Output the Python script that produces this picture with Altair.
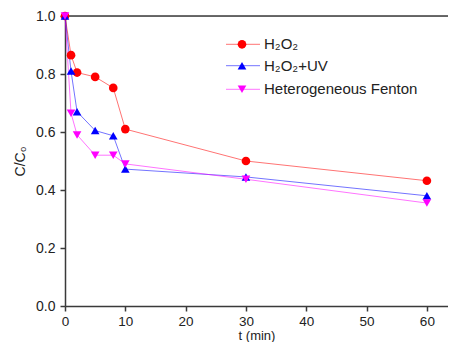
import altair as alt
import pandas as pd

t_values = [0, 1, 2, 5, 8, 10, 30, 60]
h2o2 = [1.0, 0.865, 0.805, 0.790, 0.752, 0.610, 0.500, 0.432]
h2o2_uv = [1.0, 0.810, 0.670, 0.605, 0.587, 0.472, 0.445, 0.380]
fenton = [1.0, 0.665, 0.590, 0.520, 0.520, 0.490, 0.437, 0.355]

series_names = ["H₂O₂", "H₂O₂+UV", "Heterogeneous Fenton"]
series_colors = ["#ff0000", "#0000ff", "#ff00ff"]
series_shapes = ["circle", "triangle-up", "triangle-down"]

x_ticks = [0, 5, 10, 15, 20, 25, 30, 35, 40, 45, 50, 55, 60]
y_ticks = [0.0, 0.1, 0.2, 0.3, 0.4, 0.5, 0.6, 0.7, 0.8, 0.9, 1.0]

rows = []
for name, vals in zip(series_names, [h2o2, h2o2_uv, fenton]):
    for t, c in zip(t_values, vals):
        rows.append({"series": name, "t": t, "c": c})
df = pd.DataFrame(rows)

W, H = 383, 290
FONT = "Liberation Sans"
AXIS_COLOR = "#3a3a3a"

color_scale = alt.Scale(domain=series_names, range=series_colors)
shape_scale = alt.Scale(domain=series_names, range=series_shapes)

x_enc = alt.X(
    "t:Q",
    scale=alt.Scale(domain=[0, 63.5], nice=False, zero=False),
    axis=alt.Axis(
        title="t (min)",
        values=x_ticks,
        grid=False,
        labelExpr="datum.value % 10 === 0 ? datum.label : ''",
        tickSize={"condition": {"test": "datum.value % 10 === 0", "value": 5}, "value": 3},
        tickColor=AXIS_COLOR,
        tickWidth=1.5,
        domainColor=AXIS_COLOR,
        domainWidth=1.5,
        labelFont=FONT,
        labelFontSize=13.5,
        labelColor="#222",
        labelPadding=3,
        labelFlush=False,
        titleFont=FONT,
        titleFontSize=13,
        titleFontWeight="normal",
        titleColor="#222",
        titlePadding=2,
    ),
)
y_enc = alt.Y(
    "c:Q",
    scale=alt.Scale(domain=[0, 1.0], nice=False),
    axis=alt.Axis(
        title="C/C₀",
        values=y_ticks,
        grid=False,
        format=".1f",
        labelExpr="round(datum.value * 10) % 2 === 0 ? datum.label : ''",
        tickSize={"condition": {"test": "round(datum.value * 10) % 2 === 0", "value": 5}, "value": 3},
        tickColor=AXIS_COLOR,
        tickWidth=1.5,
        domainColor=AXIS_COLOR,
        domainWidth=1.5,
        labelFont=FONT,
        labelFontSize=14,
        labelColor="#222",
        labelPadding=5,
        labelFlush=False,
        titleFont=FONT,
        titleFontSize=14,
        titleFontWeight="normal",
        titleColor="#222",
        titlePadding=8,
    ),
)

base = alt.Chart(df)

lines = base.mark_line(strokeWidth=1, opacity=0.55, clip=False).encode(
    x=x_enc, y=y_enc,
    color=alt.Color("series:N", scale=color_scale, legend=None),
    detail="series:N",
)
points = base.mark_point(filled=True, size=75, opacity=1, clip=False).encode(
    x="t:Q", y="c:Q",
    color=alt.Color("series:N", scale=color_scale, legend=None),
    shape=alt.Shape("series:N", scale=shape_scale, legend=None),
)

top_frame = alt.Chart(pd.DataFrame({"a": [0]})).mark_rule(
    color=AXIS_COLOR, strokeWidth=1.5
).encode(x=alt.value(0), x2=alt.value(W), y=alt.value(0))

# manual legend (line segment + marker + label)
legend_y = [28.3, 49.7, 73.3]
legend_layers = []
for name, col, shp, ly in zip(series_names, series_colors, series_shapes, legend_y):
    d = pd.DataFrame({"series": [name]})
    legend_layers.append(
        alt.Chart(d).mark_rule(color=col, strokeWidth=1, opacity=0.55).encode(
            x=alt.value(161), x2=alt.value(195), y=alt.value(ly)
        )
    )
    legend_layers.append(
        alt.Chart(d).mark_point(filled=True, size=75, color=col, shape=shp, opacity=1).encode(
            x=alt.value(177), y=alt.value(ly)
        )
    )
    legend_layers.append(
        alt.Chart(d).mark_text(
            align="left", baseline="middle", font=FONT, fontSize=15, color="#222", dx=0
        ).encode(x=alt.value(199), y=alt.value(ly), text="series:N")
    )

chart = alt.layer(top_frame, lines, points, *legend_layers).properties(
    width=W,
    height=H,
    autosize=alt.AutoSizeParams(type="none"),
    padding={"left": 57, "top": 8, "right": 0, "bottom": 36},
).configure_view(stroke=None).configure(background="white")

chart.save("out.html", embed_options={"renderer": "svg", "actions": False})
